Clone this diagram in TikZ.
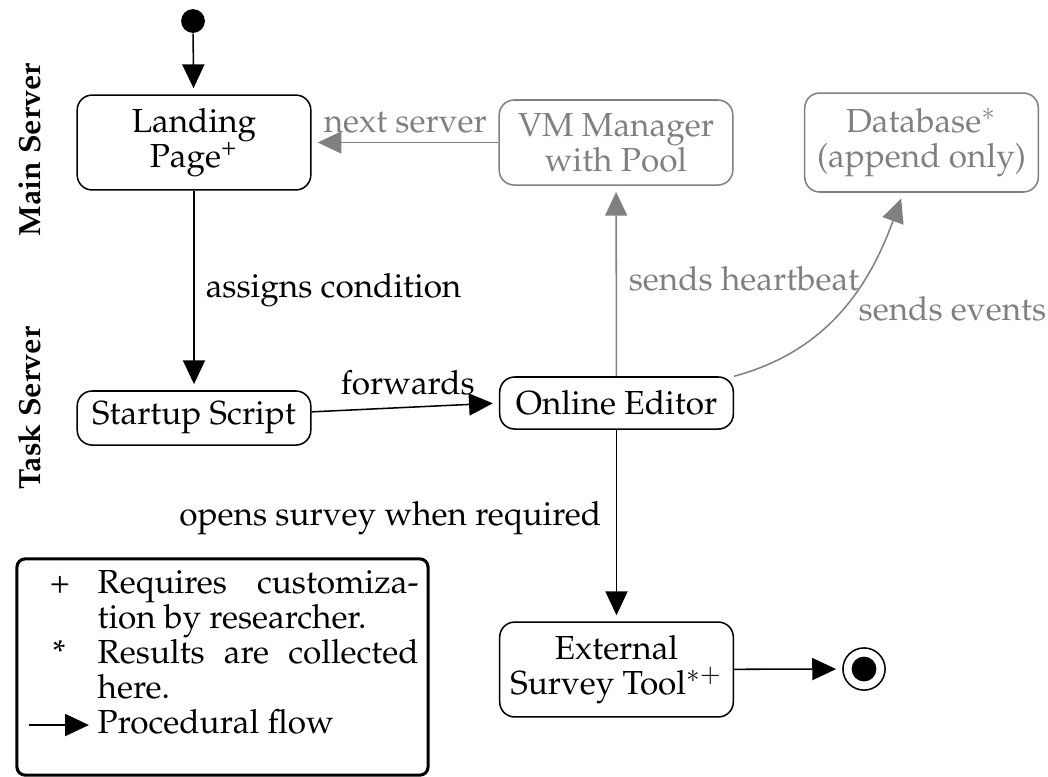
\documentclass[tikz,border=0pt]{standalone}
\usepackage[T1]{fontenc}
\usepackage{mathpazo}
\usetikzlibrary{arrows.meta}
\begin{document}
\begin{tikzpicture}[x=0.2941pt,y=-0.2941pt,
  font=\fontsize{9.8}{10.3}\selectfont,
  state/.style={draw, rounded corners=4.4pt, line width=0.45pt, align=center,
    inner sep=0pt, minimum width=68.7pt},
  faded/.style={draw=black!50, text=black!50},
  flow/.style={line width=0.45pt, -{Triangle[length=7pt,width=6.5pt]}, shorten >=1.8pt},
  gflow/.style={flow, draw=black!50, -{Triangle[length=7pt,width=6.5pt,fill=black!50]}},
  lbl/.style={anchor=base west, inner sep=0pt},
  glbl/.style={lbl, text=black!50},
  lane/.style={rotate=90, anchor=base, inner sep=0pt, font=\fontsize{9}{10}\selectfont\bfseries}
]
\useasboundingbox (0,0) rectangle (1048,776);

% lane labels
\node[lane] (mainlane) at (40,150) {Main Server};
\node[lane] (tasklane) at (40,408) {Task Server};

% nodes
\node[circle, fill, minimum size=7pt, inner sep=0pt] (init) at (193,21) {};
\node[state, minimum height=27.9pt] (landing) at (194,142.5) {Landing\\Page\textsuperscript{+}};
\node[state, faded, minimum height=25pt] (vm) at (616,142.5) {VM Manager\\with Pool};
\node[state, faded, minimum height=29.1pt] (db) at (921.5,142.5) {Database$^*$\\(append only)};
\node[state, minimum height=15.9pt] (startup) at (194,418) {Startup Script};
\node[state, minimum height=15.3pt] (editor) at (616.5,403) {Online Editor};
\node[state, minimum height=27.9pt] (survey) at (616.5,669.5) {External\\Survey Tool$^{*+}$};
\node[circle, draw, line width=0.45pt, minimum size=12.4pt, inner sep=0pt] (final) at (864,669) {};
\node[circle, fill, minimum size=7.3pt, inner sep=0pt] (finaldot) at (final) {};

% connectors
\draw[flow] (init) -- (landing);
\draw[flow] (landing) -- (startup) node[lbl] at (205,297) {assigns condition};
\draw[flow] (startup.3) -- (editor.west) node[lbl] at (340,394) {forwards};
\draw[flow] (editor) -- (survey) node[lbl, anchor=base east] at (602,525) {opens survey when required};
\draw[flow] (survey) -- (final);
\draw[gflow] (vm) -- (landing) node[glbl] at (323,132) {next server};
\draw[gflow] (editor) -- (vm) node[glbl] at (628,290) {sends heartbeat};
\draw[gflow] (editor.north east) to[out=15, in=-110] (db);
\node[glbl] (evlbl) at (858,320) {sends events};

% legend
\node[draw, line width=0.9pt, rounded corners=2.4pt, minimum width=120.9pt,
  minimum height=63.6pt, inner sep=0pt] (legend) at (222.5,667) {};
\node[lbl, anchor=base] (plus) at (60,593) {+};
\node[lbl] (l1) at (97,593) {\makebox[94.4pt][s]{Requires customiza-}};
\node[lbl] (l2) at (97,628) {tion by researcher.};
\node[lbl, anchor=base] (star) at (59,663) {*};
\node[lbl] (l3) at (97,663) {\makebox[94.4pt][s]{Results are collected}};
\node[lbl] (l4) at (97,698) {here.};
\node[lbl] (l5) at (97,733) {Procedural flow};
\coordinate (la) at (29,725);
\coordinate (lb) at (95,725);
\draw[flow] (la) -- (lb);
\end{tikzpicture}
\end{document}
